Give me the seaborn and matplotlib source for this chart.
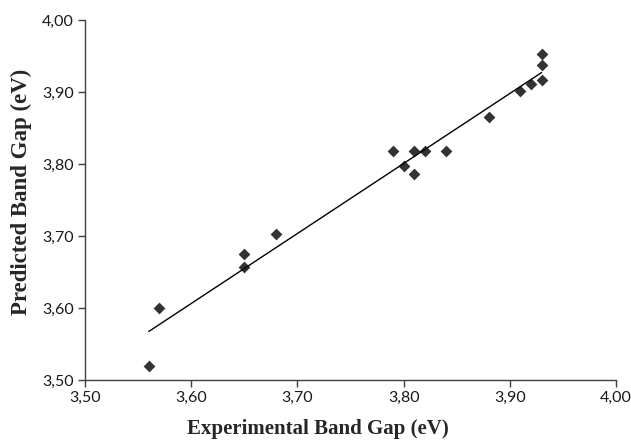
import matplotlib
matplotlib.use("Agg")
import matplotlib.pyplot as plt
import seaborn as sns
import pandas as pd

# Data
experimental = [3.56, 3.57, 3.65, 3.65, 3.68, 3.79, 3.80, 3.81, 3.81, 3.82, 3.84,
                3.88, 3.91, 3.92, 3.93, 3.93, 3.93]
predicted = [3.520, 3.600, 3.675, 3.657, 3.703, 3.818, 3.797, 3.818, 3.786, 3.818,
             3.818, 3.865, 3.902, 3.911, 3.916, 3.938, 3.953]

tick_values = [3.50, 3.60, 3.70, 3.80, 3.90, 4.00]
tick_labels = ["3,50", "3,60", "3,70", "3,80", "3,90", "4,00"]

x_title = "Experimental Band Gap (eV)"
y_title = "Predicted Band Gap (eV)"

df = pd.DataFrame({"Experimental": experimental, "Predicted": predicted})

sns.set_style("white")
plt.rcParams["font.family"] = ["Lato", "DejaVu Sans"]

fig = plt.figure(figsize=(6.31, 4.40), dpi=100)
ax = fig.add_axes([85 / 631, 1 - 380 / 440, (616 - 85) / 631, (380 - 20) / 440])

sns.regplot(data=df, x="Experimental", y="Predicted", ax=ax, ci=None,
            marker="D", color="black",
            scatter_kws={"s": 36, "linewidths": 0, "zorder": 3},
            line_kws={"linewidth": 1.0, "color": "black"})

ax.set_xlim(3.50, 4.00)
ax.set_ylim(3.50, 4.00)
ax.set_xticks(tick_values)
ax.set_xticklabels(tick_labels)
ax.set_yticks(tick_values)
ax.set_yticklabels(tick_labels)

ax.tick_params(axis="both", which="major", direction="out", length=5, width=1,
               color="#404040", labelsize=11.5, labelcolor="#1a1a1a", pad=3,
               bottom=True, left=True)

for side in ["top", "right"]:
    ax.spines[side].set_visible(False)
for side in ["left", "bottom"]:
    ax.spines[side].set_color("#404040")
    ax.spines[side].set_linewidth(1.0)

ax.set_xlabel(x_title, family="Liberation Serif", fontweight="bold", fontsize=15)
ax.set_ylabel(y_title, family="Liberation Serif", fontweight="bold", fontsize=16.5)
ax.xaxis.set_label_coords((318 - 85) / (616 - 85), -(419 - 380) / 360)
ax.yaxis.set_label_coords(-(85 - 32) / 531, (380 - 192) / 360)

fig.savefig("out.png", dpi=100)
